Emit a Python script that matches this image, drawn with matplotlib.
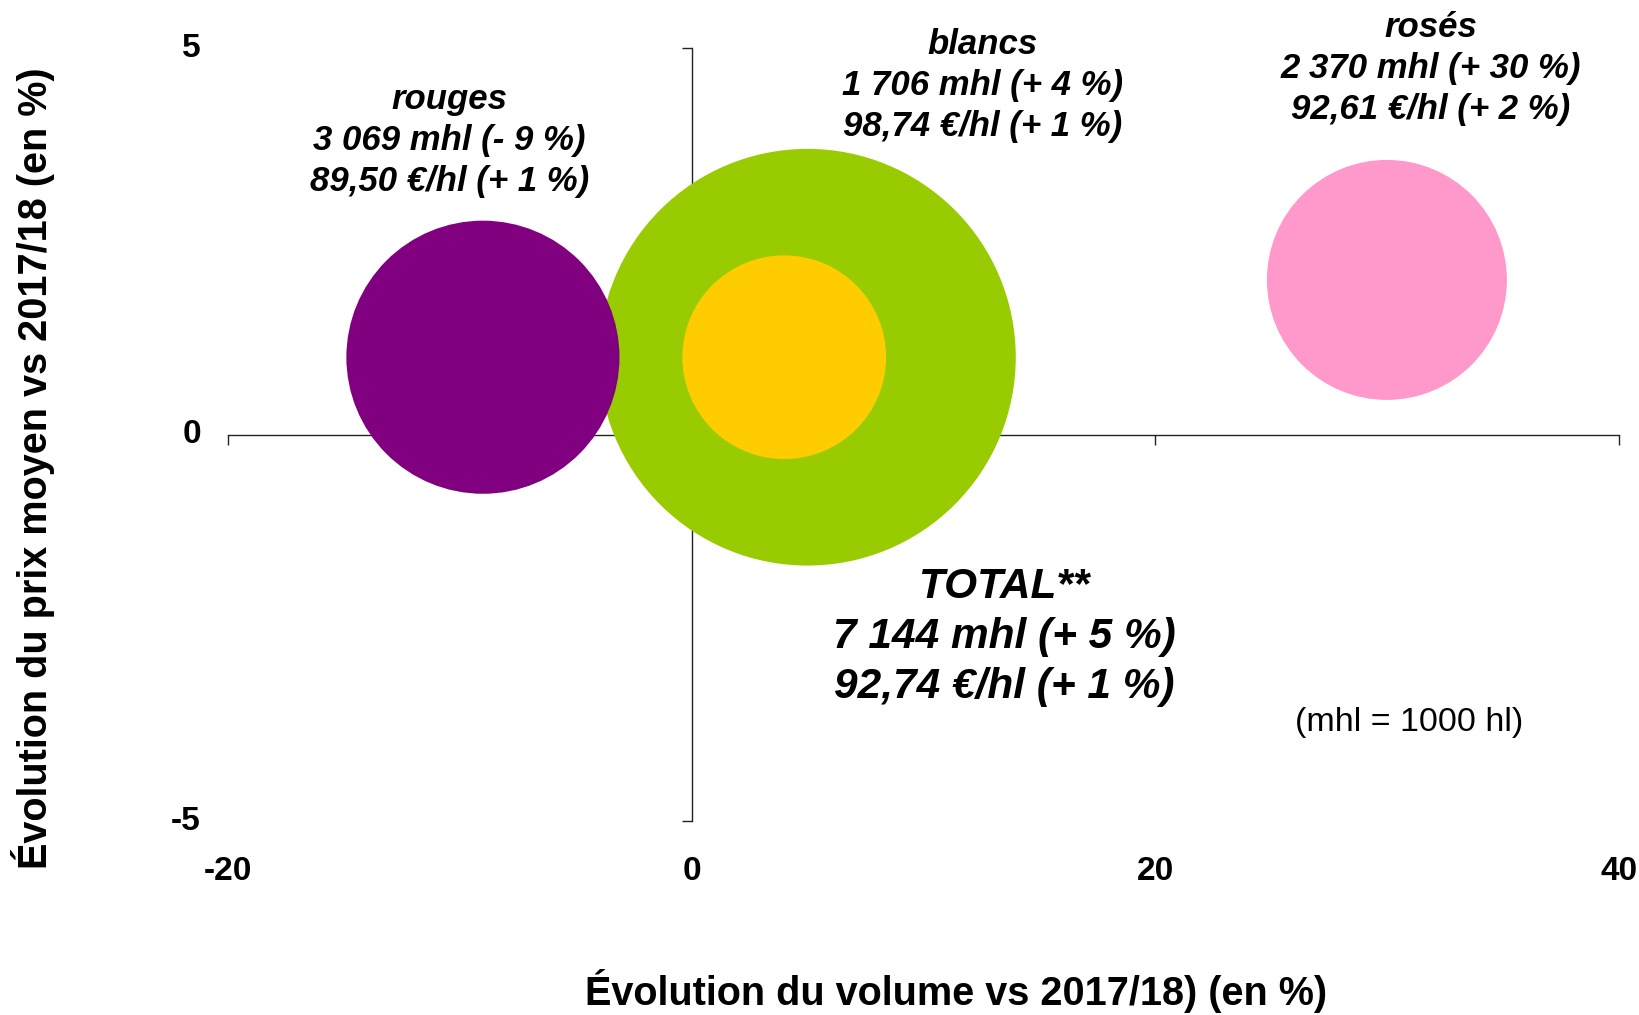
import matplotlib
matplotlib.use("Agg")
import matplotlib.pyplot as plt

plt.rcParams['font.family'] = ['Liberation Sans', 'DejaVu Sans']

# data
names = ['TOTAL**', 'blancs', 'rouges', 'rosés']
vol_change = [5, 4, -9, 30]          # % vs 2017/18
price_change = [1, 1, 1, 2]          # % vs 2017/18
volumes = [7144, 1706, 3069, 2370]   # mhl
prices = [92.74, 98.74, 89.50, 92.61]  # €/hl
colors = ['#99CC00', '#FFCC00', '#800080', '#FF99CC']

x_ticks = [-20, 0, 20, 40]
y_ticks = [-5, 0, 5]

# where each text block sits (data coords)
label_pos = [(13.5, -2.62), (12.55, 4.52), (-10.45, 3.80), (31.9, 4.74)]
label_size = [30.5, 25, 25, 25]


def fmt_vol(v):
    return f"{v:,}".replace(",", " ")


def fmt_chg(c):
    return f"{'+' if c >= 0 else '-'} {abs(c)} %"


def fmt_price(p):
    return f"{p:.2f}".replace(".", ",")


fig = plt.figure(figsize=(16.4, 10.15), dpi=100)
ax = fig.add_axes([0.139, 0.1911, 0.848, 0.7616])
ax.set_xlim(-20, 40)
ax.set_ylim(-5, 5)

# bubbles: area proportional to volume
sizes = [v * 12.6 for v in volumes]
for i in range(len(names)):
    ax.scatter(vol_change[i], price_change[i], s=sizes[i], color=colors[i],
               edgecolors='none', zorder=3 + i)

# axes crossing at zero
for s in ['top', 'right']:
    ax.spines[s].set_visible(False)
ax.spines['left'].set_position(('data', 0))
ax.spines['bottom'].set_position(('data', 0))
for s in ['left', 'bottom']:
    ax.spines[s].set_linewidth(1.0)
    ax.spines[s].set_color('#222222')
ax.set_xticks(x_ticks)
ax.set_yticks(y_ticks)
ax.tick_params(direction='out', length=7.5, width=1.0, color='#222222',
               labelbottom=False, labelleft=False)

# tick labels placed at plot edges (Excel "low" position)
for v in x_ticks:
    ax.text(v, -0.065, str(v), transform=ax.get_xaxis_transform(),
            ha='center', va='center', fontsize=24, fontweight='bold')
for v in y_ticks:
    ax.text(-0.0195, v, str(v), transform=ax.get_yaxis_transform(),
            ha='right', va='center', fontsize=24, fontweight='bold')

# bubble labels
for i in range(len(names)):
    txt = (f"{names[i]}\n{fmt_vol(volumes[i])} mhl ({fmt_chg(vol_change[i])})\n"
           f"{fmt_price(prices[i])} €/hl ({fmt_chg(price_change[i])})")
    ax.text(label_pos[i][0], label_pos[i][1], txt, ha='center', va='center',
            fontsize=label_size[i], fontweight='bold', fontstyle='italic',
            linespacing=1.31, zorder=10)

ax.text(30.95, -3.72, "(mhl = 1000 hl)", ha='center', va='center', fontsize=24.5)

fig.text(0.583, 0.024, "Évolution du volume vs 2017/18) (en %)",
         ha='center', va='center', fontsize=28.5, fontweight='bold')
fig.text(0.0201, 0.539, "Évolution du prix moyen vs 2017/18 (en %)",
         ha='center', va='center', rotation=90, fontsize=28.5, fontweight='bold')

fig.savefig("out.png", dpi=100)
